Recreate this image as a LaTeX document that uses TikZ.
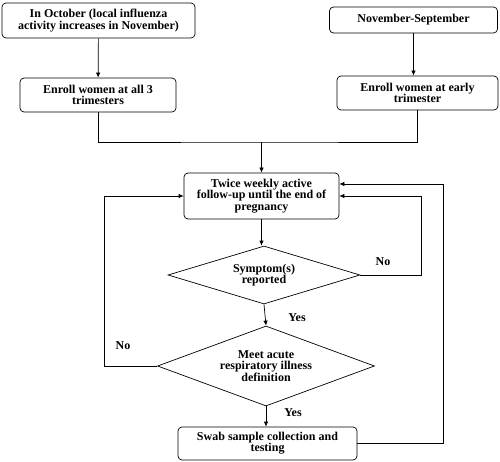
\documentclass[tikz,border=0pt]{standalone}
\usepackage{fontspec}
\setmainfont{Liberation Serif}
\usetikzlibrary{shapes.geometric, arrows.meta, positioning}

\tikzset{
  procbox/.style={draw, rounded corners=4pt, line width=0.7pt, align=center,
    inner sep=1pt, font=\bfseries\fontsize{12}{11.2}\selectfont},
  decision/.style={draw, diamond, line width=0.7pt, align=center, inner sep=0pt,
    font=\bfseries\fontsize{12}{11.2}\selectfont},
  line/.style={draw, line width=0.7pt},
  arrowline/.style={line, -{Latex[length=5pt,width=4.5pt]}},
  tag/.style={font=\bfseries\fontsize{12}{11.2}\selectfont}
}

\begin{document}
\begin{tikzpicture}[x=1pt, y=-1pt]
  % fixed frame, same size as the reference
  \path[use as bounding box] (0,0) rectangle (500,462);

  \node[procbox, minimum width=193pt, minimum height=35pt] (oct) at (98.5,20.5)
    {In October (local influenza\\activity increases in November)};
  \node[procbox, minimum width=168pt, minimum height=26pt] (nov) at (413.5,20)
    {November-September};
  \node[procbox, minimum width=156pt, minimum height=34pt] (enrollAll) at (98,95)
    {Enroll women at all 3\\trimesters};
  \node[procbox, minimum width=161pt, minimum height=34pt] (enrollEarly) at (417.5,93)
    {Enroll women at early\\trimester};
  \node[procbox, minimum width=155pt, minimum height=46pt] (followup) at (261.5,196)
    {Twice weekly active\\follow-up until the end of\\pregnancy};
  \node[decision, aspect=3.3, minimum width=192pt, minimum height=58pt] (symptom) at (264,275)
    {Symptom(s)\\reported};
  \node[decision, aspect=2.7, minimum width=217pt, minimum height=80pt] (ari) at (266,366)
    {Meet acute\\respiratory illness\\definition};
  \node[procbox, minimum width=179pt, minimum height=33pt] (swab) at (267.5,443.5)
    {Swab sample collection and\\testing};

  \coordinate (join) at (261.5,142);

  \draw[arrowline] (oct) -- (enrollAll);
  \draw[arrowline] (nov.south) -- (nov.south |- enrollEarly.north);
  \draw[line] (enrollAll.south) |- (join) -| (enrollEarly.south);
  \draw[arrowline] (join) -- (followup.north);
  \draw[arrowline] (followup.south) -- (followup.south |- symptom.north);
  \draw[arrowline] (symptom.south) -- (ari.north);
  \draw[arrowline] (ari.south) -- (ari.south |- swab.north);

  % loops back to the follow-up
  \draw[arrowline] (symptom.east) -- ++(61,0) |- (followup.east);
  \draw[arrowline] (ari.west) -- ++(-53,0) |- (followup.west);
  \draw[arrowline] (swab.east) -- ++(86,0) |- ([yshift=12pt]followup.east);

  \node[tag] (noA) at (383,262) {No};
  \node[tag] (yesA) at (297,318) {Yes};
  \node[tag] (noB) at (123,346) {No};
  \node[tag] (yesB) at (293,413) {Yes};
\end{tikzpicture}
\end{document}
